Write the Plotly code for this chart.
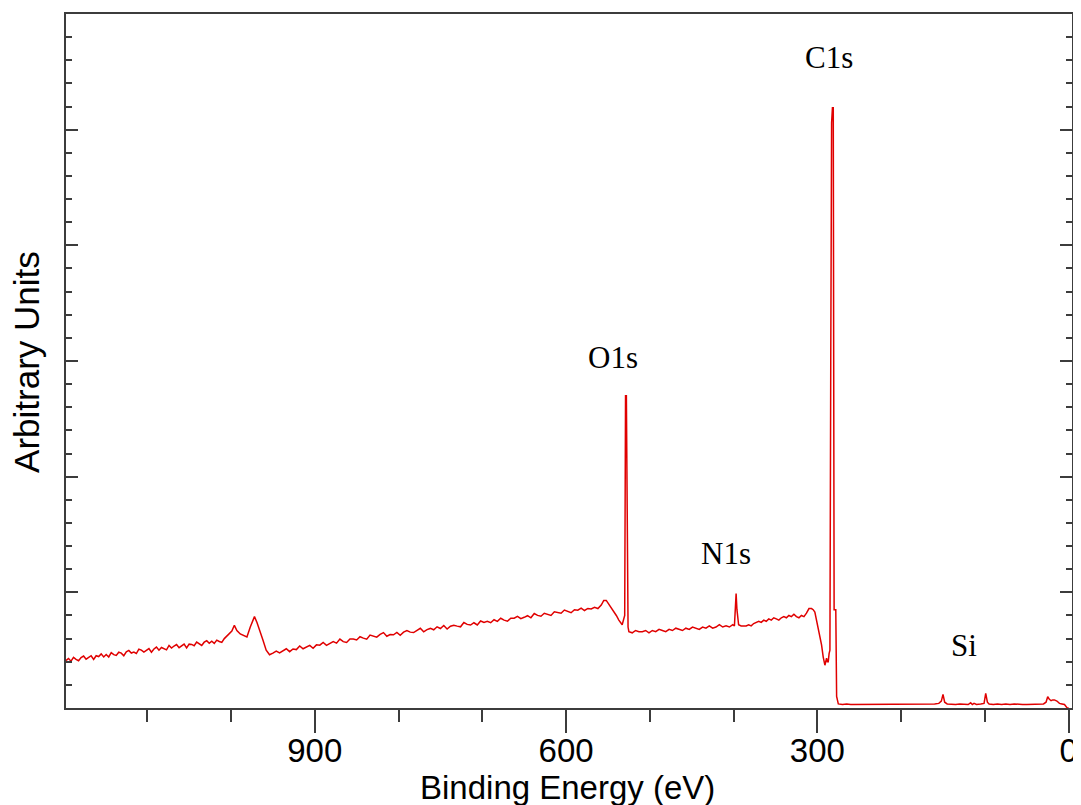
import plotly.graph_objects as go

# Binding energy (eV) and intensity (arbitrary units)
binding_energy = [
    1197, 1194, 1191, 1188, 1185, 1182, 1179, 1176, 1173, 1170, 1167, 1164, 1161, 1158, 1155, 1152,
    1149, 1146, 1143, 1140, 1137, 1134, 1131, 1128, 1125, 1122, 1119, 1116, 1113, 1110, 1107, 1104,
    1101, 1098, 1095, 1092, 1089, 1086, 1083, 1080, 1077, 1074, 1071, 1068, 1065, 1062, 1059, 1056,
    1053, 1050, 1047, 1044, 1041, 1038, 1035, 1032, 1029, 1026, 1023, 1020, 1017, 1014, 1011, 1008,
    1005, 1002, 999, 996, 993, 989, 985, 981, 977, 972, 969, 966, 962, 958, 954,
    950, 946, 942, 938, 934, 930, 926, 922, 918, 914, 910, 906, 902, 898, 894, 890,
    886, 882, 878, 874, 870, 866, 862, 858, 854, 850, 846, 842, 838, 834, 830, 826,
    822, 818, 814, 810, 806, 802, 798, 794, 790, 786, 782, 778, 774, 770, 766, 762,
    758, 754, 750, 746, 742, 738, 734, 730, 726, 722, 718, 714, 710, 706, 702, 698,
    694, 690, 686, 682, 678, 674, 670, 666, 662, 658, 654, 650, 646, 642, 638, 634,
    630, 626, 622, 618, 614, 610, 606, 602, 598, 594, 590, 586, 582, 578, 574, 570,
    566, 562, 558, 555, 552, 549, 546, 543, 540, 537, 535, 533, 530, 529, 528, 527, 526,
    525, 521, 517, 513, 509, 505, 501, 497, 493, 489, 485, 481, 477, 473, 469, 465,
    461, 457, 453, 449, 445, 441, 437, 433, 429, 425, 421, 417, 413, 409, 405, 401,
    399, 397, 396, 394, 391, 388, 385, 382, 379, 376, 373, 370, 367, 364, 361, 358,
    355, 352, 349, 346, 343, 340, 337, 334, 331, 328, 325, 322, 319, 316, 313, 310,
    307, 305, 303, 301, 299, 297, 295, 293, 291, 290, 289, 288, 287, 286, 285, 284,
    283, 282, 281, 280, 278, 277, 275,
    270, 265, 260, 255, 250, 245, 240, 235, 230, 225, 220, 215, 210, 205, 200, 195,
    190, 185, 180, 175, 170, 165, 160, 155, 152, 150, 148, 145, 140, 135, 130, 125,
    120, 117, 115, 113, 110, 105, 101, 99, 97, 95, 90, 85, 80, 75, 70, 65,
    60, 55, 50, 45, 40, 35, 30, 27, 25, 23, 21, 19, 17, 14, 11, 8, 5, 2, 0,
]

intensity = [
    0.410, 0.428, 0.405, 0.438, 0.421, 0.409, 0.436, 0.449, 0.422, 0.434, 0.452, 0.420, 0.452, 0.445, 0.468, 0.441,
    0.463, 0.441, 0.479, 0.461, 0.454, 0.482, 0.474, 0.452, 0.485, 0.498, 0.475, 0.483, 0.471, 0.508, 0.501, 0.484,
    0.496, 0.514, 0.482, 0.510, 0.527, 0.500, 0.523, 0.515, 0.503, 0.541, 0.518, 0.536, 0.549, 0.522, 0.534, 0.552,
    0.520, 0.552, 0.550, 0.538, 0.570, 0.553, 0.541, 0.569, 0.581, 0.559, 0.577, 0.559, 0.587, 0.575, 0.567, 0.600,
    0.620, 0.640, 0.665, 0.715, 0.670, 0.640, 0.625, 0.615, 0.700, 0.790, 0.740, 0.680, 0.590, 0.500, 0.460,
    0.475, 0.492, 0.477, 0.493, 0.512, 0.487, 0.510, 0.505, 0.536, 0.512, 0.525, 0.542, 0.517, 0.546, 0.543, 0.567,
    0.542, 0.561, 0.574, 0.561, 0.596, 0.574, 0.567, 0.596, 0.597, 0.588, 0.616, 0.604, 0.595, 0.631, 0.619, 0.613,
    0.636, 0.652, 0.620, 0.635, 0.633, 0.653, 0.629, 0.656, 0.670, 0.656, 0.652, 0.669, 0.689, 0.659, 0.678, 0.688,
    0.676, 0.702, 0.687, 0.713, 0.683, 0.707, 0.716, 0.708, 0.702, 0.739, 0.723, 0.717, 0.737, 0.718, 0.752, 0.740,
    0.749, 0.737, 0.763, 0.749, 0.776, 0.760, 0.750, 0.777, 0.777, 0.793, 0.773, 0.784, 0.798, 0.780, 0.817, 0.801,
    0.793, 0.819, 0.808, 0.800, 0.832, 0.825, 0.819, 0.847, 0.833, 0.824, 0.850, 0.846, 0.864, 0.843, 0.861, 0.857,
    0.870, 0.86, 0.89, 0.93, 0.93, 0.90, 0.87, 0.84, 0.80, 0.76, 0.74, 0.72, 0.80, 2.70, 2.70, 1.71, 0.70,
    0.66, 0.65, 0.67, 0.66, 0.66, 0.67, 0.65, 0.67, 0.66, 0.68, 0.67, 0.66, 0.68, 0.67, 0.69, 0.68,
    0.67, 0.69, 0.68, 0.70, 0.69, 0.68, 0.70, 0.69, 0.71, 0.69, 0.70, 0.72, 0.70, 0.71, 0.70, 0.72,
    0.71, 0.99, 0.85, 0.72, 0.71, 0.71, 0.71, 0.72, 0.71, 0.73, 0.74, 0.75, 0.74, 0.76, 0.75, 0.77,
    0.76, 0.78, 0.77, 0.76, 0.78, 0.79, 0.78, 0.80, 0.79, 0.81, 0.79, 0.78, 0.80, 0.79, 0.82, 0.86,
    0.86, 0.85, 0.83, 0.76, 0.70, 0.60, 0.545, 0.44, 0.37, 0.40, 0.43, 0.40, 0.40, 0.47, 0.50, 3.00,
    5.06, 5.19, 5.19, 0.85, 0.85, 0.10, 0.035,
    0.030, 0.035, 0.030, 0.030, 0.035, 0.030, 0.030, 0.035, 0.030, 0.030, 0.030, 0.035, 0.030, 0.030, 0.030, 0.030,
    0.035, 0.030, 0.030, 0.035, 0.030, 0.030, 0.035, 0.040, 0.060, 0.118, 0.050, 0.035, 0.030, 0.030, 0.035, 0.030,
    0.030, 0.045, 0.030, 0.040, 0.030, 0.035, 0.040, 0.126, 0.050, 0.035, 0.030, 0.035, 0.030, 0.035, 0.030, 0.035,
    0.030, 0.030, 0.030, 0.030, 0.030, 0.030, 0.035, 0.050, 0.098, 0.075, 0.063, 0.070, 0.070, 0.060, 0.040, 0.035, 0.030, 0.003, 0.0,
]

peak_labels = ["C1s", "O1s", "N1s", "Si"]
peak_label_x = [286, 544, 409, 125]
peak_label_y = [5.62, 3.03, 1.34, 0.54]

x_tick_vals = [900, 600, 300, 0]
x_tick_text = ["900", "600", "300", "0"]

axis_color = "#3c3c3c"

fig = go.Figure()
fig.add_trace(go.Scatter(
    x=binding_energy, y=intensity, mode="lines",
    line=dict(color="#e00000", width=1.5), showlegend=False, hoverinfo="skip",
))

for txt, lx, ly in zip(peak_labels, peak_label_x, peak_label_y):
    fig.add_annotation(x=lx, y=ly, text=txt, showarrow=False,
                       font=dict(family="Liberation Serif", size=31, color="black"),
                       xanchor="center", yanchor="middle")

fig.add_annotation(xref="paper", yref="paper", x=-0.0388, y=0.4986,
                   text="Arbitrary Units", textangle=-90, showarrow=False,
                   font=dict(family="Liberation Sans", size=35, color="black"),
                   xanchor="center", yanchor="middle")
fig.add_annotation(xref="paper", yref="paper", x=0.499, y=-0.114,
                   text="Binding Energy (eV)", showarrow=False,
                   font=dict(family="Liberation Sans", size=33, color="black"),
                   xanchor="center", yanchor="middle")

fig.update_xaxes(
    range=[1197, -4], autorange=False, automargin=False,
    tickmode="array", tickvals=x_tick_vals, ticktext=x_tick_text,
    ticks="outside", ticklen=23, tickwidth=1.5, tickcolor=axis_color,
    ticklabelstandoff=-10,
    tickfont=dict(family="Liberation Sans", size=33, color="black"),
    showline=True, linecolor=axis_color, linewidth=1.5, mirror=True,
    showgrid=False, zeroline=False,
    minor=dict(tickmode="linear", tick0=0, dtick=100, ticks="outside", ticklen=12,
               tickwidth=1.5, tickcolor=axis_color, showgrid=False),
)
fig.update_yaxes(
    range=[0, 6], autorange=False, automargin=False,
    tickmode="linear", tick0=0, dtick=1,
    ticks="inside", ticklen=12, tickwidth=1.5, tickcolor=axis_color,
    showticklabels=False,
    showline=True, linecolor=axis_color, linewidth=1.5, mirror="ticks",
    showgrid=False, zeroline=False,
    minor=dict(tickmode="linear", tick0=0, dtick=0.2, ticks="inside", ticklen=6,
               tickwidth=1.5, tickcolor=axis_color, showgrid=False),
)

# page body adds an 8 px offset; margins compensate so the plot area lands at 66..1072 x 14..708
fig.update_layout(
    width=1073, height=797,
    margin=dict(l=58, r=9, t=6, b=97),
    plot_bgcolor="white", paper_bgcolor="white",
)

fig.write_html("out.html")
